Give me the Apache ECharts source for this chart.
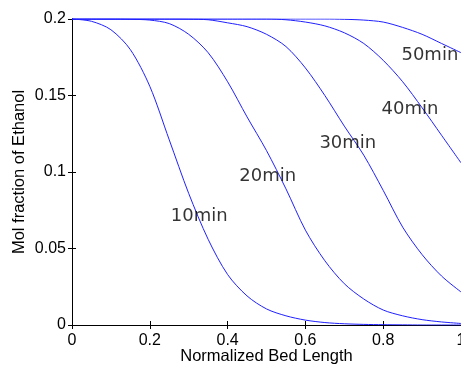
<!DOCTYPE html>
<html>
<head>
<meta charset="utf-8">
<script src="https://cdn.jsdelivr.net/npm/echarts@6/dist/echarts.min.js"></script>
<style>
  html, body { margin: 0; padding: 0; background: #fff; }
  #chart { width: 461px; height: 365px; }
</style>
</head>
<body>
<div id="chart"></div>
<script>
// bed position (normalized) shared by all curves
const bedPos = [0, 0.05, 0.1, 0.15, 0.2, 0.25, 0.3, 0.35, 0.4, 0.45, 0.5,
  0.55, 0.6, 0.65, 0.7, 0.75, 0.8, 0.85, 0.9, 0.95, 1.0]

// mol fraction of ethanol
const frac10 = [0.2, 0.1985, 0.193, 0.180, 0.156, 0.121, 0.086, 0.056, 0.033, 0.019, 0.0105,
  0.006, 0.0032, 0.0016, 0.0008, 0.0004, 0.0002, 0.0001, 0, 0, 0]
const frac20 = [0.2, 0.2, 0.2, 0.1998, 0.1993, 0.197, 0.190, 0.178, 0.159, 0.136, 0.114,
  0.089, 0.062, 0.042, 0.027, 0.017, 0.0098, 0.006, 0.0035, 0.002, 0.001]
const frac30 = [0.2, 0.2, 0.2, 0.2, 0.2, 0.2, 0.1999, 0.1995, 0.1975, 0.195, 0.19,
  0.182, 0.168, 0.150, 0.130, 0.111, 0.088, 0.064, 0.046, 0.032, 0.0216]
const frac40 = [0.2, 0.2, 0.2, 0.2, 0.2, 0.2, 0.2, 0.2, 0.2, 0.2, 0.2,
  0.1995, 0.198, 0.1955, 0.191, 0.184, 0.173, 0.159, 0.142, 0.124, 0.106]
const frac50 = [0.2, 0.2, 0.2, 0.2, 0.2, 0.2, 0.2, 0.2, 0.2, 0.2, 0.2,
  0.2, 0.2, 0.2, 0.1998, 0.1993, 0.198, 0.1945, 0.19, 0.184, 0.178]

// curve annotations
const labelNames = ['10min', '20min', '30min', '40min', '50min']
const labelX = [0.327, 0.503, 0.709, 0.869, 0.92]
const labelY = [0.0712, 0.0974, 0.119, 0.141, 0.176]

const xTicks = [0, 0.2, 0.4, 0.6, 0.8, 1]
const yTicks = [0, 0.05, 0.1, 0.15, 0.2]

const curves = [frac10, frac20, frac30, frac40, frac50]

const chart = echarts.init(document.getElementById('chart'), null, { renderer: 'canvas' })

const tickFont = { fontFamily: 'Liberation Sans, Arial', fontSize: 16, color: '#000' }
const axLine = { show: true, lineStyle: { color: '#000', width: 1 } }
const axTick = { show: true, inside: true, length: 4, lineStyle: { color: '#000' } }

const option = {
  animation: false,
  backgroundColor: '#fff',
  grid: { left: 72, right: 0, top: 19, bottom: 40, containLabel: false, outerBoundsMode: 'none' },
  xAxis: [
    {
      type: 'value', min: 0, max: 1, interval: 0.2,
      name: 'Normalized Bed Length', nameLocation: 'middle', nameGap: 23, nameMoveOverlap: false,
      nameTextStyle: { ...tickFont, fontSize: 16.5 },
      axisLine: axLine, axisTick: axTick, splitLine: { show: false },
      axisLabel: { ...tickFont, margin: 8, formatter: v => String(xTicks.find(t => Math.abs(t - v) < 1e-9) ?? v) },
    },
    {
      type: 'value', min: 0, max: 1, interval: 0.2, position: 'top',
      axisLine: axLine, axisTick: axTick, axisLabel: { show: false }, splitLine: { show: false },
    },
  ],
  yAxis: [
    {
      type: 'value', min: 0, max: 0.2, interval: 0.05,
      name: 'Mol fraction of Ethanol', nameLocation: 'middle', nameGap: 44, nameMoveOverlap: false,
      nameTextStyle: { ...tickFont, fontSize: 16.5 },
      axisLine: axLine, axisTick: axTick, splitLine: { show: false },
      axisLabel: { ...tickFont, margin: 6, formatter: v => String(yTicks.find(t => Math.abs(t - v) < 1e-9) ?? v) },
    },
    {
      type: 'value', min: 0, max: 0.2, interval: 0.05, position: 'right',
      axisLine: axLine, axisTick: axTick, axisLabel: { show: false }, splitLine: { show: false },
    },
  ],
  series: [
    ...curves.map((c, i) => ({
      name: labelNames[i], type: 'line',
      data: bedPos.map((x, j) => [x, c[j]]),
      xAxisIndex: 0, yAxisIndex: 0,
      symbol: 'none', smooth: 0.3,
      lineStyle: { color: '#2020ff', width: 1 },
      z: 1,
    })),
    {
      type: 'scatter',
      data: labelX.map((x, i) => [x, labelY[i], labelNames[i]]),
      symbolSize: 1,
      itemStyle: { color: 'rgba(0,0,0,0)' },
      label: {
        show: true, position: 'inside',
        formatter: p => p.value[2],
        fontFamily: 'DejaVu Sans', fontSize: 18, color: '#000',
      },
      z: 5,
    },
  ],
}

chart.setOption(option)
</script>
</body>
</html>
